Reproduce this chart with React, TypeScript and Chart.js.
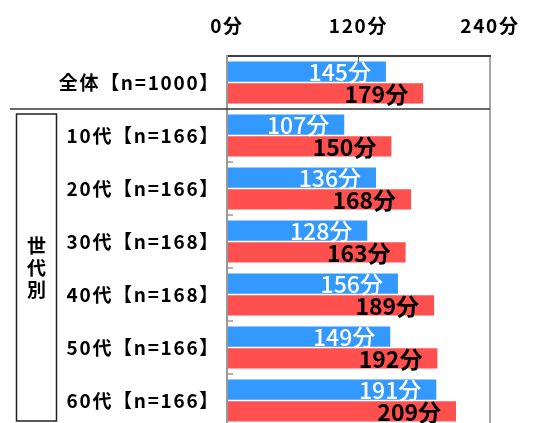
import React, { useEffect, useRef } from "react";
import { Chart, registerables } from "chart.js";

Chart.register(...registerables);

const categories = [
  "全体【n=1000】",
  "10代【n=166】",
  "20代【n=166】",
  "30代【n=168】",
  "40代【n=168】",
  "50代【n=166】",
  "60代【n=166】",
];
const weekdayMinutes = [145, 107, 136, 128, 156, 149, 191];
const holidayMinutes = [179, 150, 168, 163, 189, 192, 209];
const xTickLabels = ["0分", "120分", "240分"];
const seriesNames = ["平日", "休日"];
const groupLabel = ["世", "代", "別"];
const unit = "分";

const FONT = "'Noto Sans CJK JP', 'Noto Sans', sans-serif";

const decorPlugin = {
  id: "decor",
  beforeDraw(chart: any) {
    chart.ctx.letterSpacing = "1.7px";
  },
  afterDatasetsDraw(chart: any) {
    const ctx = chart.ctx as CanvasRenderingContext2D;
    const ys = chart.scales.y;
    const xs = chart.scales.x;
    const { top, bottom, left, right } = chart.chartArea;
    ctx.save();
    (ctx as any).letterSpacing = "0px";
    // value labels
    chart.data.datasets.forEach((ds: any, di: number) => {
      const meta = chart.getDatasetMeta(di);
      meta.data.forEach((bar: any, i: number) => {
        ctx.font = (di === 0 ? "500 " : "bold ") + "23px " + FONT;
        ctx.fillStyle = di === 0 ? "#ffffff" : "#000000";
        ctx.textAlign = "right";
        ctx.textBaseline = "middle";
        ctx.fillText(ds.data[i] + unit, bar.x - 15, bar.y + 1);
      });
    });
    const boundary = (i: number) =>
      (ys.getPixelForValue(i - 1) + ys.getPixelForValue(i)) / 2;
    // divider under 全体
    ctx.strokeStyle = "#333333";
    ctx.lineWidth = 1.5;
    ctx.beginPath();
    ctx.moveTo(10, boundary(1));
    ctx.lineTo(right, boundary(1));
    ctx.stroke();
    // inward y ticks
    ctx.strokeStyle = "#999999";
    ctx.lineWidth = 1.5;
    for (let i = 2; i < categories.length; i++) {
      const by = boundary(i);
      ctx.beginPath();
      ctx.moveTo(left, by);
      ctx.lineTo(left + 6, by);
      ctx.stroke();
    }
    // inward x tick at 120
    const tx = xs.getPixelForValue(120);
    ctx.strokeStyle = "#555555";
    ctx.lineWidth = 1;
    ctx.beginPath();
    ctx.moveTo(tx, top);
    ctx.lineTo(tx, top + 6);
    ctx.stroke();
    // group box
    const boxTop = boundary(1) + 5;
    const boxBottom = bottom - 6;
    ctx.strokeStyle = "#222222";
    ctx.lineWidth = 1.5;
    ctx.strokeRect(16.5, boxTop, 40, boxBottom - boxTop);
    ctx.font = "bold 19px " + FONT;
    ctx.fillStyle = "#000000";
    ctx.textAlign = "center";
    ctx.textBaseline = "middle";
    const cy = (boxTop + boxBottom) / 2;
    groupLabel.forEach((ch, i) => {
      ctx.fillText(ch, 36.5, cy + (i - 1) * 22);
    });
    ctx.restore();
  },
};

export default function App() {
  const ref = useRef<HTMLCanvasElement>(null);
  useEffect(() => {
    if (!ref.current) return;
    const chart = new Chart(ref.current, {
      type: "bar",
      data: {
        labels: categories,
        datasets: [
          {
            label: seriesNames[0],
            data: weekdayMinutes,
            backgroundColor: "#3399ff",
            categoryPercentage: 0.82,
            barPercentage: 0.94,
          },
          {
            label: seriesNames[1],
            data: holidayMinutes,
            backgroundColor: "#ff5050",
            categoryPercentage: 0.82,
            barPercentage: 0.94,
          },
        ],
      },
      options: {
        indexAxis: "y",
        responsive: false,
        animation: false,
        devicePixelRatio: 1,
        layout: { padding: { left: 0, right: 45, top: 0, bottom: 3 } },
        plugins: { legend: { display: false }, tooltip: { enabled: false } },
        scales: {
          x: {
            position: "top",
            min: 0,
            max: 240,
            afterFit: (s: any) => {
              s.height = 56;
              s.paddingLeft = 0;
              s.paddingRight = 0;
            },
            ticks: {
              stepSize: 120,
              padding: 19,
              color: "#000000",
              font: { family: FONT, size: 19, weight: "bold" },
              callback: (_v: any, i: number) => xTickLabels[i],
            },
            grid: {
              drawTicks: false,
              lineWidth: 2,
              color: (c: any) =>
                c.tick && c.tick.value === 240 ? "#a6a6a6" : "rgba(0,0,0,0)",
            },
            border: { display: true, color: "#404040", width: 2 },
          },
          y: {
            afterFit: (s: any) => {
              s.width = 227;
              s.paddingTop = 0;
              s.paddingBottom = 0;
            },
            ticks: {
              padding: 7,
              color: "#000000",
              font: { family: FONT, size: 19, weight: "bold" },
            },
            grid: { drawOnChartArea: false, drawTicks: false },
            border: { display: true, color: "#999999", width: 2 },
          },
        },
      },
      plugins: [decorPlugin],
    });
    return () => chart.destroy();
  }, []);
  return (
    <div
      style={{
        position: "fixed",
        left: 0,
        top: 0,
        width: 535,
        height: 423,
        overflow: "hidden",
        background: "#ffffff",
      }}
    >
      <canvas ref={ref} width={535} height={430} style={{ display: "block" }} />
    </div>
  );
}
